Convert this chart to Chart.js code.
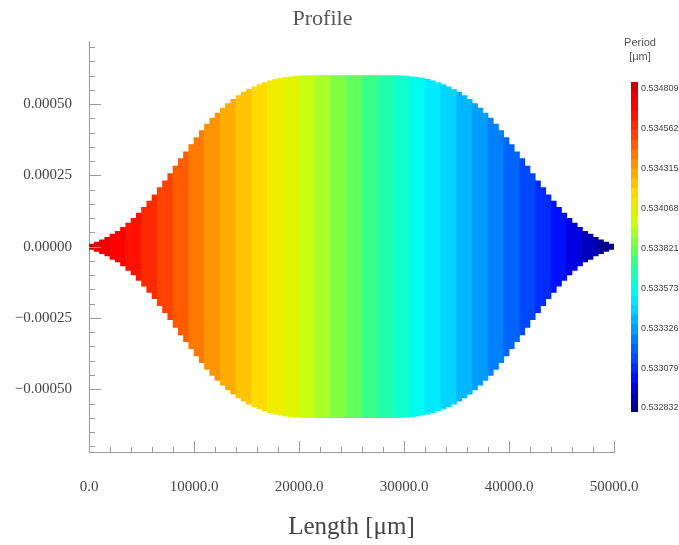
<!DOCTYPE html>
<html>
<head>
<meta charset="utf-8">
<script src="https://cdn.jsdelivr.net/npm/chart.js@4.4.0/dist/chart.umd.min.js"></script>
<style>
body { margin: 0; background: #fff; }
#wrap { position: relative; width: 679px; height: 545px; }
#profile { position: absolute; left: 0; top: 0; }
#cbar { position: absolute; left: 601px; top: 0; }
</style>
</head>
<body>
<div id="wrap">
  <canvas id="profile" width="645" height="545"></canvas>
  <canvas id="cbar" width="78" height="545"></canvas>
</div>
<script>
// column centres along the grating [um]
var lengthUm = [250,750,1250,1750,2250,2750,3250,3750,4250,4750,
  5250,5750,6250,6750,7250,7750,8250,8750,9250,9750,
  10250,10750,11250,11750,12250,12750,13250,13750,14250,14750,
  15250,15750,16250,16750,17250,17750,18250,18750,19250,19750,
  20250,20750,21250,21750,22250,22750,23250,23750,24250,24750,
  25250,25750,26250,26750,27250,27750,28250,28750,29250,29750,
  30250,30750,31250,31750,32250,32750,33250,33750,34250,34750,
  35250,35750,36250,36750,37250,37750,38250,38750,39250,39750,
  40250,40750,41250,41750,42250,42750,43250,43750,44250,44750,
  45250,45750,46250,46750,47250,47750,48250,48750,49250,49750];

// half height of the profile at each column
var halfWidth = [0.0000094,0.0000164,0.0000245,0.0000327,0.0000444,0.0000538,0.0000678,0.000083,0.0000993,0.000118,
  0.000138,0.00016,0.000182,0.000207,0.000231,0.000256,0.000283,0.000309,0.000333,0.000358,
  0.000383,0.000407,0.00043,0.000451,0.000469,0.000486,0.000502,0.000517,0.00053,0.000542,
  0.000552,0.000561,0.000569,0.000576,0.000582,0.000587,0.000591,0.000594,0.000596,0.000598,
  0.000599,0.0006,0.0006,0.0006,0.0006,0.0006,0.0006,0.0006,0.0006,0.0006,
  0.0006,0.0006,0.0006,0.0006,0.0006,0.0006,0.0006,0.0006,0.0006,0.000599,
  0.000598,0.000596,0.000594,0.000591,0.000587,0.000582,0.000576,0.000569,0.000561,0.000552,
  0.000542,0.00053,0.000517,0.000502,0.000486,0.000469,0.000451,0.00043,0.000407,0.000383,
  0.000358,0.000333,0.000309,0.000283,0.000256,0.000231,0.000207,0.000182,0.00016,0.000138,
  0.000118,0.0000993,0.000083,0.0000678,0.0000538,0.0000444,0.0000327,0.0000245,0.0000164,0.0000094];

// grating period at each column [um]
var period = [0.534809,0.534789,0.534769,0.534749,0.534729,0.534709,0.534689,0.534669,0.534649,0.534629,
  0.534609,0.534589,0.534569,0.534549,0.534529,0.534509,0.534489,0.534469,0.534450,0.534430,
  0.534410,0.534390,0.534370,0.534350,0.534330,0.534310,0.534290,0.534270,0.534250,0.534230,
  0.534210,0.534190,0.534170,0.534150,0.534130,0.534110,0.534090,0.534070,0.534050,0.534030,
  0.534010,0.533990,0.533970,0.533950,0.533930,0.533910,0.533890,0.533870,0.533850,0.533830,
  0.533810,0.533790,0.533771,0.533751,0.533731,0.533711,0.533691,0.533671,0.533651,0.533631,
  0.533611,0.533591,0.533571,0.533551,0.533531,0.533511,0.533491,0.533471,0.533451,0.533431,
  0.533411,0.533391,0.533371,0.533351,0.533331,0.533311,0.533291,0.533271,0.533251,0.533231,
  0.533211,0.533191,0.533171,0.533151,0.533131,0.533112,0.533092,0.533072,0.533052,0.533032,
  0.533012,0.532992,0.532972,0.532952,0.532932,0.532912,0.532892,0.532872,0.532852,0.532832];

var xTickLabels = [0, 10000, 20000, 30000, 40000, 50000];
var yTickLabels = [-0.0005, -0.00025, 0, 0.00025, 0.0005];
var periodTicks = [0.532832, 0.533079, 0.533326, 0.533573, 0.533821, 0.534068, 0.534315, 0.534562, 0.534809];

// colour levels of the bar, low to high
var palette = ['#000090','#0000b8','#0000e0','#0010ff','#002cff','#0048ff','#0064ff','#0080ff','#009cff','#00b8ff',
  '#00d4ff','#00eaff','#00fcf0','#10ffcc','#22ffaa','#38ff88','#60ff5c','#84ff40','#a8ff28','#c8ff10',
  '#e0f400','#f0ec00','#ffdc00','#ffc400','#ffac00','#ff9400','#ff7a00','#ff5c00','#ff4200','#ff2a00',
  '#ff1200','#ff0000','#ee0000','#d00000'];

var pMin = periodTicks[0], pMax = periodTicks[periodTicks.length - 1];

function levelOf(p) {
  var t = (p - pMin) / (pMax - pMin);
  var k = Math.floor(t * (palette.length - 1) + 0.01);
  return Math.max(0, Math.min(palette.length - 1, k));
}

function isMajor(v, list) {
  return list.some(function (m) { return Math.abs(m - v) < 1e-8; });
}

var axisGrey = '#9a9a9a';
var textGrey = '#444';

// tick marks pointing into the plot, like the original
var inwardTicks = {
  id: 'inwardTicks',
  afterDatasetsDraw: function (chart) {
    var ctx = chart.ctx, a = chart.chartArea;
    var xs = chart.scales.x, ys = chart.scales.y;
    ctx.save();
    ctx.strokeStyle = axisGrey;
    ctx.lineWidth = 1;
    ctx.beginPath();
    ys.ticks.forEach(function (t) {
      var py = Math.round(ys.getPixelForValue(t.value)) + 0.5;
      var len = isMajor(t.value, yTickLabels) ? 12 : 6;
      ctx.moveTo(a.left, py);
      ctx.lineTo(a.left + len, py);
    });
    xs.ticks.forEach(function (t) {
      var px = Math.round(xs.getPixelForValue(t.value)) + 0.5;
      var len = isMajor(t.value, xTickLabels) ? 11 : 5;
      ctx.moveTo(px, a.bottom);
      ctx.lineTo(px, a.bottom - len);
    });
    ctx.stroke();
    ctx.restore();
  }
};

new Chart(document.getElementById('profile'), {
  type: 'bar',
  data: {
    datasets: [{
      data: lengthUm.map(function (x, i) { return { x: x, y: [-halfWidth[i], halfWidth[i]] }; }),
      backgroundColor: period.map(function (p) { return palette[levelOf(p)]; }),
      borderWidth: 0,
      barPercentage: 1,
      categoryPercentage: 1
    }]
  },
  options: {
    responsive: false,
    animation: false,
    devicePixelRatio: 1,
    layout: { padding: { top: 6, right: 0, bottom: 0, left: 0 } },
    plugins: {
      legend: { display: false },
      tooltip: { enabled: false },
      title: {
        display: true,
        text: 'Profile',
        color: '#555',
        font: { family: 'Liberation Serif', size: 22, weight: 'normal' },
        padding: { top: 0, bottom: 9 }
      }
    },
    scales: {
      x: {
        type: 'linear',
        min: 0,
        max: 50000,
        offset: false,
        grid: { display: false, drawTicks: false, tickLength: 0 },
        border: { display: true, color: axisGrey, width: 1 },
        ticks: {
          stepSize: 2000,
          autoSkip: false,
          maxRotation: 0,
          includeBounds: false,
          padding: 26,
          color: textGrey,
          font: { family: 'Liberation Serif', size: 15 },
          callback: function (v) { return isMajor(v, xTickLabels) ? v.toFixed(1) : ''; }
        },
        title: {
          display: true,
          text: 'Length [μm]',
          color: textGrey,
          font: { family: 'Liberation Serif', size: 25 },
          padding: { top: 0, bottom: 3 }
        },
        afterFit: function (s) {
          s.height = 93;
          s.paddingLeft = 0;
          s.paddingRight = 31;
        }
      },
      y: {
        min: -0.00072,
        max: 0.00072,
        grid: { display: false, drawTicks: false, tickLength: 0 },
        border: { display: true, color: axisGrey, width: 1 },
        ticks: {
          stepSize: 0.00005,
          autoSkip: false,
          includeBounds: false,
          padding: 17,
          color: textGrey,
          font: { family: 'Liberation Serif', size: 15 },
          callback: function (v) {
            if (!isMajor(v, yTickLabels)) return '';
            return (v < -1e-12 ? '\u2212' : '') + Math.abs(v).toFixed(5);
          }
        },
        afterFit: function (s) {
          s.width = 89;
          s.paddingTop = 0;
          s.paddingBottom = 0;
        }
      }
    }
  },
  plugins: [inwardTicks]
});

// colour bar: one band per colour level
var cbMin = 0.532807, cbMax = 0.534852;
var bandH = (cbMax - cbMin) / palette.length;

new Chart(document.getElementById('cbar'), {
  type: 'bar',
  data: {
    labels: [''],
    datasets: palette.map(function (c, k) {
      return {
        data: [[cbMin + k * bandH, cbMin + (k + 1) * bandH]],
        yAxisID: 'y',
        backgroundColor: c,
        borderWidth: 0,
        grouped: false,
        barPercentage: 1,
        categoryPercentage: 1
      };
    })
  },
  options: {
    responsive: false,
    animation: false,
    devicePixelRatio: 1,
    layout: { padding: { top: 35, right: 0, bottom: 133, left: 0 } },
    plugins: {
      legend: { display: false },
      tooltip: { enabled: false },
      title: {
        display: true,
        text: ['Period', '[μm]'],
        color: '#555',
        font: { family: 'Liberation Sans', size: 11, weight: 'normal', lineHeight: 1.36 },
        padding: { top: 0, bottom: 17 }
      }
    },
    scales: {
      x: { display: false },
      y: {
        position: 'right',
        min: cbMin,
        max: cbMax,
        grid: { display: false, drawTicks: false, tickLength: 0 },
        border: { display: false },
        afterBuildTicks: function (s) {
          s.ticks = periodTicks.map(function (v) { return { value: v }; });
        },
        ticks: {
          autoSkip: false,
          padding: 3,
          color: textGrey,
          font: { family: 'Liberation Sans', size: 9 },
          callback: function (v) { return v.toFixed(6); }
        },
        afterFit: function (s) {
          s.width = 41;
          s.paddingTop = 0;
          s.paddingBottom = 0;
        }
      },
      // empty left axis that only keeps the bar away from the canvas edge
      spacer: {
        type: 'linear',
        position: 'left',
        display: true,
        min: 0,
        max: 1,
        grid: { display: false, drawTicks: false },
        border: { display: false },
        ticks: { display: false },
        afterFit: function (s) { s.width = 30; }
      }
    }
  }
});
</script>
</body>
</html>
